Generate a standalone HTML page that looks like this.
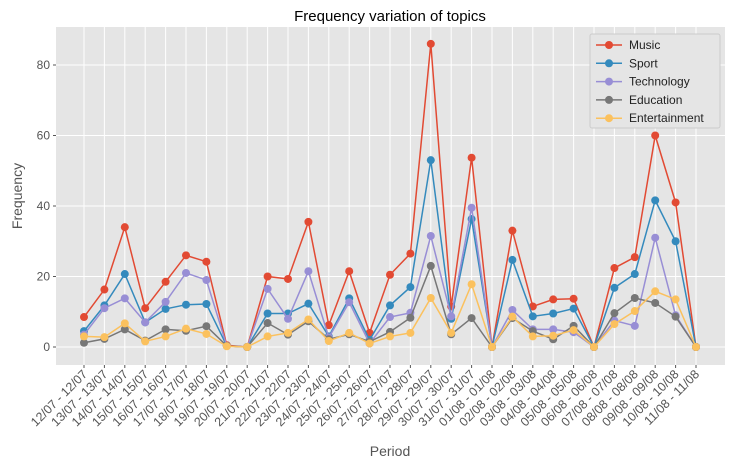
<!DOCTYPE html>
<html><head><meta charset="utf-8"><style>
body{margin:0;background:#fff;font-family:"Liberation Sans",sans-serif}
</style></head><body>
<svg id="c" width="731" height="464" xmlns="http://www.w3.org/2000/svg"></svg>
<script>
const categories=["12/07 - 12/07","13/07 - 13/07","14/07 - 14/07","15/07 - 15/07","16/07 - 16/07","17/07 - 17/07","18/07 - 18/07","19/07 - 19/07","20/07 - 20/07","21/07 - 21/07","22/07 - 22/07","23/07 - 23/07","24/07 - 24/07","25/07 - 25/07","26/07 - 26/07","27/07 - 27/07","28/07 - 28/07","29/07 - 29/07","30/07 - 30/07","31/07 - 31/07","01/08 - 01/08","02/08 - 02/08","03/08 - 03/08","04/08 - 04/08","05/08 - 05/08","06/08 - 06/08","07/08 - 07/08","08/08 - 08/08","09/08 - 09/08","10/08 - 10/08","11/08 - 11/08"];
const music=[8.5,16.3,34,11,18.5,26,24.2,0.5,0,20,19.3,35.5,6.2,21.5,4,20.5,26.5,86,11.5,53.7,0,33,11.5,13.5,13.7,0,22.4,25.5,60,41,0];
const sport=[4.5,11.8,20.7,7,10.8,12,12.2,0.3,0,9.5,9.5,12.3,3,13.8,2,11.8,17,53,8,36.3,0,24.7,8.7,9.5,10.9,0,16.8,20.7,41.6,30,0];
const technology=[3.5,11,13.8,7,12.8,21,19,0.3,0,16.5,8,21.5,2.7,12.7,1,8.5,9.7,31.5,8.7,39.5,0,10.5,5,5,4.2,0,7.5,6,31,9,0];
const education=[1.2,2.3,5,1.8,5,4.6,5.9,0.3,0,6.8,3.5,7.3,2.2,3.6,1.5,4.3,8.3,23,3.6,8.2,0,8.2,4.5,2.2,6,0,9.6,13.9,12.5,8.6,0];
const entertainment=[3,2.8,6.7,1.6,3,5.2,3.7,0.2,0,3,4,7.8,1.7,4,1,3,4,13.9,4,17.8,0,8.6,3,3.2,4.8,0,6.5,10.2,15.8,13.5,0];
const yTicks=[0,20,40,60,80];
const seriesNames=["Music","Sport","Technology","Education","Entertainment"];
const colors=["#E24A33","#348ABD","#988ED5","#777777","#FBC15E"];
const NS="http://www.w3.org/2000/svg",svg=document.getElementById('c');
const L=56,R=725,T=27,B=365;
const x=i=>84+i*(696-84)/(categories.length-1);
const y=v=>347-v*(347-65)/80;
function mk(t,a,p){const e=document.createElementNS(NS,t);for(const k in a)e.setAttribute(k,a[k]);(p||svg).appendChild(e);return e;}
const bg=mk('rect',{x:L,y:T,width:R-L,height:B-T,fill:'#E5E5E5'});


yTicks.forEach(v=>{mk('line',{x1:L,x2:R,y1:y(v),y2:y(v),stroke:'#fff','stroke-width':1});
const t=mk('text',{x:L-6,y:y(v)+4,'text-anchor':'end','font-size':12,fill:'#555'});t.textContent=v;


mk('line',{x1:L-3,x2:L,y1:y(v),y2:y(v),stroke:'#555'});});
categories.forEach((c,i)=>{mk('line',{x1:x(i),x2:x(i),y1:T,y2:B,stroke:'#fff','stroke-width':1});
mk('line',{x1:x(i),x2:x(i),y1:B,y2:B+3,stroke:'#555'});
const t=mk('text',{x:x(i)+4,y:B+10,'text-anchor':'end','font-size':12.5,fill:'#555',transform:`rotate(-45 ${x(i)+4} ${B+10})`});t.textContent=c;

});
[music,sport,technology,education,entertainment].forEach((s,k)=>{
const g=mk('g',{});


mk('polyline',{points:s.map((v,i)=>x(i)+','+y(v)).join(' '),fill:'none',stroke:colors[k],'stroke-width':1.5},g);
s.forEach((v,i)=>{const p=mk('circle',{cx:x(i),cy:y(v),r:4,fill:colors[k]},g);

});});
const ti=mk('text',{x:390,y:21,'text-anchor':'middle','font-size':15,fill:'#000'});ti.textContent='Frequency variation of topics';


const xl=mk('text',{x:390,y:456,'text-anchor':'middle','font-size':14,fill:'#555'});xl.textContent='Period';


const yl=mk('text',{x:22,y:196,'text-anchor':'middle','font-size':14,fill:'#555',transform:'rotate(-90 22 196)'});yl.textContent='Frequency';


const lg=mk('g',{});


mk('rect',{x:590,y:34,width:130,height:94,fill:'#E5E5E5',stroke:'#ccc',rx:2},lg);
seriesNames.forEach((n,k)=>{const yy=45+k*18.3;
mk('line',{x1:596,x2:622,y1:yy,y2:yy,stroke:colors[k],'stroke-width':1.5},lg);
mk('circle',{cx:609,cy:yy,r:4,fill:colors[k]},lg);
const t=mk('text',{x:629,y:yy+4,'font-size':12,fill:'#222'},lg);t.textContent=n;

});
</script></body></html>
